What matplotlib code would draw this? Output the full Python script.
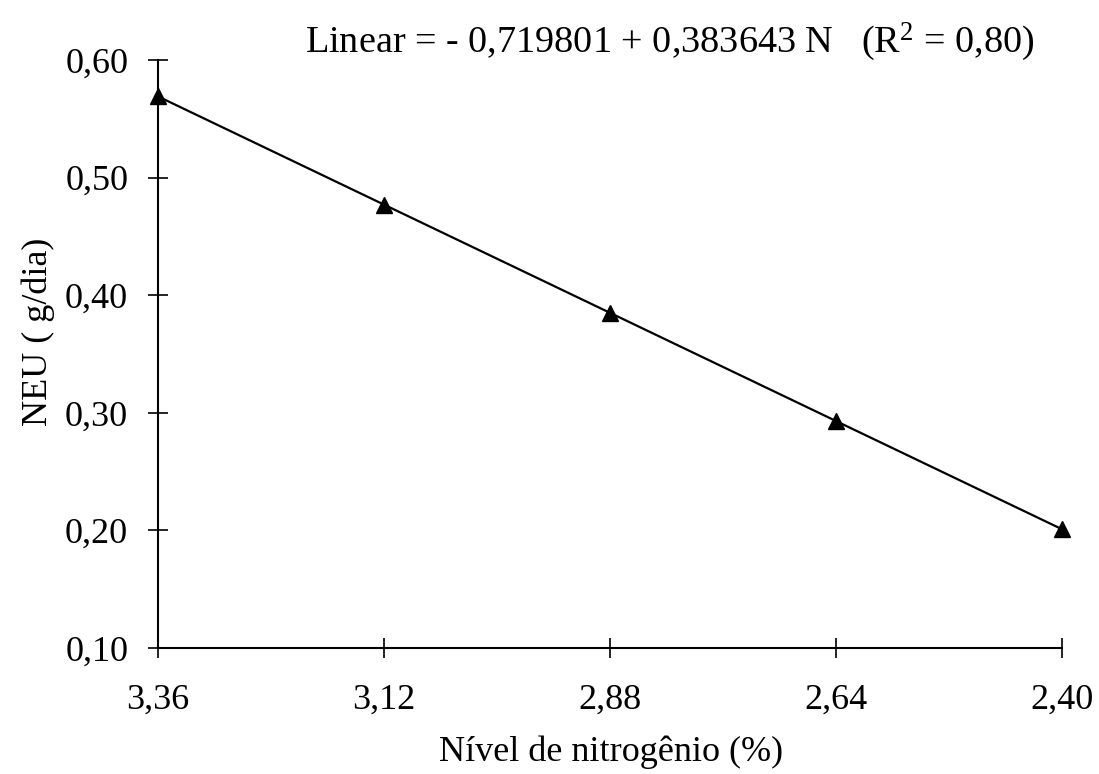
import matplotlib

matplotlib.use("Agg")
import matplotlib.pyplot as plt

# nitrogen level (%) and observed NEU (g/dia)
nivel_n = [3.36, 3.12, 2.88, 2.64, 2.40]
neu = [0.569, 0.477, 0.385, 0.293, 0.201]
x_ticklabels = ["3,36", "3,12", "2,88", "2,64", "2,40"]
y_ticks = [0.10, 0.20, 0.30, 0.40, 0.50, 0.60]
y_ticklabels = ["0,10", "0,20", "0,30", "0,40", "0,50", "0,60"]

plt.rcParams["font.family"] = ["Liberation Serif", "DejaVu Serif"]
plt.rcParams["mathtext.fontset"] = "custom"
plt.rcParams["mathtext.rm"] = "Liberation Serif"
plt.rcParams["mathtext.it"] = "Liberation Serif:italic"

FS = 26

fig = plt.figure(figsize=(10.99, 7.74), dpi=100)
ax = fig.add_axes([0.1438, 0.1628, 0.8225, 0.7597])

ax.plot(nivel_n, neu, color="black", lw=1.6, marker="^", ms=12,
        mec="black", mfc="black", clip_on=False, zorder=3)

ax.set_xlim(3.36, 2.40)
ax.set_ylim(0.10, 0.60)
ax.set_xticks(nivel_n)
ax.set_xticklabels(x_ticklabels)
ax.set_yticks(y_ticks)
ax.set_yticklabels(y_ticklabels)

for side in ("top", "right"):
    ax.spines[side].set_visible(False)
for side in ("left", "bottom"):
    ax.spines[side].set_linewidth(1.5)
ax.tick_params(direction="inout", length=14, width=1.2, labelsize=FS)
ax.tick_params(axis="y", pad=14.5)
ax.tick_params(axis="x", pad=19)

# axis titles placed in figure pixels to match the original layout
fig.text(611 / 1099, 1 - 752 / 774, "Nível de nitrogênio (%)",
         fontsize=FS, ha="center", va="center")
fig.text(38 / 1099, 1 - 332 / 774, "NEU ( g/dia)", fontsize=FS,
         rotation=90, ha="center", va="center")

fig.text(670 / 1099, 1 - 42 / 774,
         r"Linear = - 0,719801 + 0,383643 N   (R$^2$ = 0,80)",
         fontsize=27.5, ha="center", va="center")

fig.savefig("out.png", dpi=100)
